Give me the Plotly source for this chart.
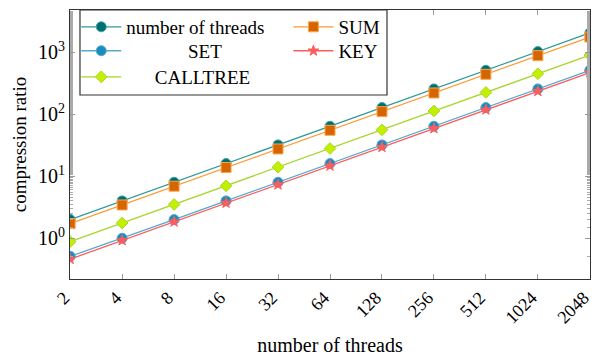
import plotly.graph_objects as go
import math

threads = [2, 4, 8, 16, 32, 64, 128, 256, 512, 1024, 2048]
tick_labels = [str(t) for t in threads]
series_threads = [2, 4, 8, 16, 32, 64, 128, 256, 512, 1024, 2048]
series_sum = [1.72, 3.44, 6.9, 13.8, 27.5, 55, 110, 220, 440, 880, 1760]
series_set = [0.51, 1.0, 2.0, 4.0, 8.0, 16, 32, 64, 128, 256, 512]
series_key = [0.46, 0.92, 1.84, 3.7, 7.3, 14.7, 29.4, 59, 118, 235, 470]
series_calltree = [0.88, 1.76, 3.5, 7.0, 14, 28, 56, 113, 225, 450, 900]

FF = "Liberation Serif"
fnt = lambda s: dict(family=FF, size=s, color="black")
NB = "\u00a0"

fig = go.Figure()

def add(name, y, line_color, fill, outline, symbol, size, legend, pad=0):
    fig.add_trace(go.Scatter(
        x=threads, y=y, name=NB * pad + name, mode="lines+markers", legend=legend,
        line=dict(color=line_color, width=1.3),
        marker=dict(symbol=symbol, size=size, color=fill,
                    line=dict(color=outline, width=1)),
    ))

add("number of threads", series_threads, "#2f9a9a", "#006e6e", "#3aa6a6", "circle", 10, "legend")
add("SUM", series_sum, "#ff9933", "#d46500", "#ffa64d", "square", 10, "legend2")
add("SET", series_set, "#55aacc", "#1a8cc0", "#55aacc", "circle", 10, "legend3", 13)
add("KEY", series_key, "#ff5c5c", "#ff5c5c", "#ff5c5c", "star", 8, "legend4")
add("CALLTREE", series_calltree, "#a6d62a", "#c2f000", "#a6d62a", "diamond", 9, "legend5", 6)

ytv = [1, 10, 100, 1000]
ytt = ["10<sup>0</sup>", "10<sup>1</sup>", "10<sup>2</sup>", "10<sup>3</sup>"]

leg_common = dict(yanchor="middle", xanchor="left", bgcolor="rgba(0,0,0,0)",
                  borderwidth=0, font=fnt(19), itemwidth=40,
                  tracegroupgap=0)
c1, c2 = 0.012, 0.42
r1, r2, r3 = 0.937, 0.848, 0.751

fig.update_layout(
    width=594, height=356,
    margin=dict(l=70, r=4, t=10, b=77, autoexpand=False),
    paper_bgcolor="white", plot_bgcolor="white",
    font=fnt(19),
    showlegend=True,
    legend=dict(x=c1, y=r1, **leg_common),
    legend2=dict(x=c2, y=r1, **leg_common),
    legend3=dict(x=c1, y=r2, **leg_common),
    legend4=dict(x=c2, y=r2, **leg_common),
    legend5=dict(x=c1, y=r3, **leg_common),
    shapes=[dict(type="rect", xref="x domain", yref="y domain",
                 x0=0.0192, x1=0.6096, y0=0.684, y1=1.0,
                 fillcolor="white", line=dict(color="#333333", width=1.2),
                 layer="above")],
    xaxis=dict(
        type="log", range=[math.log10(2) - 0.001, math.log10(2048) + 0.001],
        tickvals=threads, ticktext=tick_labels, tickangle=-45,
        tickfont=fnt(18), ticklabeloverflow="allow", ticklabelshift=-6,
        ticklabelstandoff=0,
        ticks="inside", ticklen=5, tickcolor="#999999",
        showline=True, linecolor="#333333", linewidth=1.2, mirror="ticks",
        showgrid=False, zeroline=False,
        title=dict(text="number of threads", font=fnt(20), standoff=22),
        automargin=False,
    ),
    yaxis=dict(
        type="log", range=[math.log10(0.22), math.log10(4800)],
        tickvals=ytv, ticktext=ytt, tickfont=fnt(20),
        ticks="inside", ticklen=5, tickcolor="#999999",
        minor=dict(ticks="inside", ticklen=3, tickcolor="#aaaaaa", showgrid=False),
        showline=True, linecolor="#333333", linewidth=1.2, mirror="ticks",
        showgrid=False, zeroline=False,
        title=dict(text="compression ratio", font=fnt(19), standoff=6),
        automargin=False,
    ),
)

fig.write_html("out.html", config={"displayModeBar": False})

with open("out.html", "r", encoding="utf-8") as f:
    html = f.read()
html = html.replace("<head>", "<head><style>html,body{margin:0;padding:0;overflow:hidden;}</style>", 1)
with open("out.html", "w", encoding="utf-8") as f:
    f.write(html)
